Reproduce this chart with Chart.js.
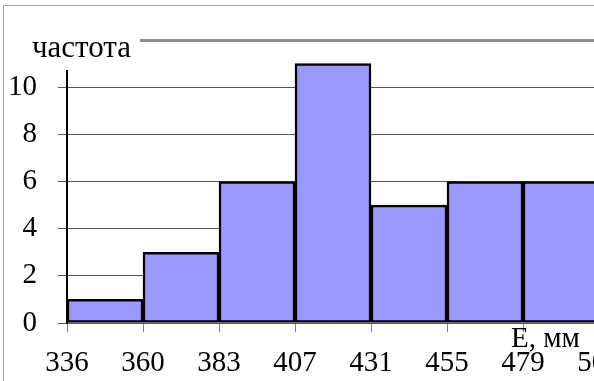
<!DOCTYPE html>
<html>
<head>
<meta charset="utf-8">
<script src="https://cdn.jsdelivr.net/npm/chart.js@4.4.1/dist/chart.umd.min.js"></script>
<style>
  html, body { margin: 0; padding: 0; background: #fff; overflow: hidden; }
  #wrap { position: relative; width: 620px; height: 381px; }
</style>
</head>
<body>
<div id="wrap"><canvas id="hist"></canvas></div>
<script>
// bin edges (tick labels) and frequencies per bin
const edges = ['336', '360', '383', '407', '431', '455', '479', '503'];
const freq = [1, 3, 6, 11, 5, 6, 6];
const yLabel = 'частота';
const xLabel = 'E, мм';

const serif = '"Liberation Serif", "Times New Roman", serif';

// frame, axis caption boxes
const decor = {
  id: 'decor',
  beforeDraw(chart) {
    const c = chart.ctx;
    c.save();
    c.strokeStyle = '#a0a0a0';
    c.lineWidth = 1;
    c.beginPath();
    c.moveTo(3.5, 381);
    c.lineTo(3.5, 5.5);
    c.lineTo(chart.width, 5.5);
    c.stroke();
    c.restore();
  },
  afterDraw(chart) {
    const c = chart.ctx;
    c.save();
    c.fillStyle = '#fff';
    c.fillRect(20, 26, 120, 44);
    c.fillStyle = '#000';
    c.font = '31px ' + serif;
    c.textBaseline = 'alphabetic';
    c.textAlign = 'left';
    c.fillText(yLabel, 32, 57);
    c.font = '29px ' + serif;
    c.fillText(xLabel, 511, 347);
    c.restore();
  }
};

new Chart(document.getElementById('hist'), {
  type: 'bar',
  data: {
    datasets: [{
      data: freq.map((v, i) => ({ x: i + 0.5, y: v })),
      backgroundColor: '#9999ff',
      borderColor: '#000',
      borderWidth: 2.5,
      borderSkipped: false,
      barPercentage: 1,
      categoryPercentage: 1
    }]
  },
  options: {
    responsive: true,
    maintainAspectRatio: false,
    animation: false,
    layout: { padding: { top: 40, right: 21, bottom: 0, left: 0 } },
    plugins: { legend: { display: false }, tooltip: { enabled: false } },
    scales: {
      x: {
        type: 'linear',
        offset: false,
        min: 0, max: 7,
        ticks: {
          stepSize: 1,
          color: '#000',
          font: { family: serif, size: 29 },
          padding: 14,
          maxRotation: 0,
          autoSkip: false,
          callback: v => edges[v]
        },
        grid: { offset: false, drawOnChartArea: false, drawTicks: true, tickLength: 9, color: '#808080' },
        border: { display: false },
        afterFit: s => { s.height = 58; s.paddingLeft = 0; s.paddingRight = 0; }
      },
      y: {
        min: 0, max: 12,
        ticks: {
          stepSize: 2,
          color: '#000',
          font: { family: serif, size: 29 },
          padding: 21,
          callback: v => v === 12 ? '' : v
        },
        grid: {
          tickLength: 9,
          color: ctx => ctx.tick && ctx.tick.value === 12 ? '#8c8c8c' : '#555',
          lineWidth: ctx => ctx.tick && ctx.tick.value === 12 ? 3 : 1
        },
        border: { display: true, color: '#000', width: 2 },
        afterFit: s => { s.width = 67; s.paddingTop = 0; s.paddingBottom = 0; }
      }
    }
  },
  plugins: [decor]
});
</script>
</body>
</html>
